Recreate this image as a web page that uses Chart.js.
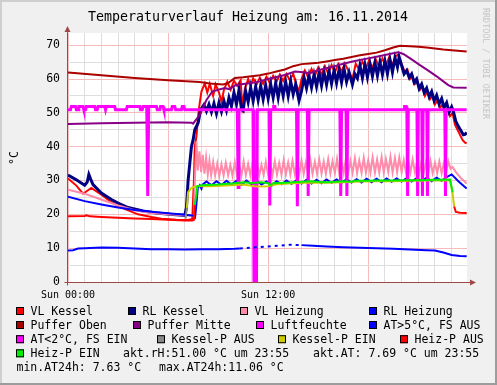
<!DOCTYPE html>
<html>
<head>
<meta charset="utf-8">
<script src="https://cdn.jsdelivr.net/npm/chart.js@4.4.1/dist/chart.umd.min.js"></script>
<style>
html,body{margin:0;padding:0;background:#f0f0f0;}
canvas{display:block;}
</style>
</head>
<body>
<canvas id="heizChart" width="497" height="385"></canvas>
<script>

// ---- data: [hour, °C] pairs ----

const vlKessel = [
[0,30.6],[0.5,28.5],[0.9,26.1],[1.4,27.8],[2.0,25.8],[2.6,23.6],[3.2,22.0],[4.2,20.0],[5.0,19.2],[5.6,18.7],[6.5,18.4],[7.2,18.3],[7.45,18.6],
[7.55,30],[7.6,40],[7.7,43],[7.8,49],[7.9,53],[8.0,56.3],[8.2,58.7],[8.35,56],[8.5,58.6],[8.7,55],[8.85,58.4],[9.05,56],[9.2,53.3],[9.35,56.8],
[9.55,59.2],[9.75,56.8],[9.95,59.5],[10.15,58],[10.35,59.6],[10.45,52],[10.6,57],[10.8,60],[10.95,58],[11.1,60.2],[11.3,58.3],[11.5,60.4],
[11.7,58.6],[11.9,60.7],[12.1,58.8],[12.3,61],[12.5,59.2],[12.7,61.3],[12.9,59.4],[13.1,61.5],[13.3,59.6],[13.5,61.6],[13.7,58],[13.85,56.5],
[14.0,60],[14.2,62.5],[14.4,60.5],[14.6,63],[14.8,61],[15.0,63.4],[15.2,61.3],[15.4,63.8],[15.6,61.6],[15.8,64.1],[16.0,62],[16.2,64.4],
[16.4,62.2],[16.6,64.6],[16.8,62.5],[17.05,60],[17.25,64.5],[17.45,62.8],[17.65,65.2],[17.85,63],[18.05,65.5],[18.25,63.3],[18.45,65.8],
[18.65,63.6],[18.85,66.1],[19.05,63.9],[19.25,66.4],[19.45,64.2],[19.65,66.8],[19.8,67.2],[20.0,64.5],[20.2,62],[20.35,62.8],[20.5,60],
[20.65,61],[20.8,58.5],[20.95,59.3],[21.1,56.8],[21.25,57.8],[21.4,55],[21.55,56.5],[21.7,54],[21.85,55],[22.0,52.5],[22.15,53.8],[22.3,51.5],
[22.45,52.5],[22.6,50.2],[22.75,51.2],[22.9,49],[23.05,50],[23.2,46.5],[23.35,45],[23.5,43.5],[23.65,42],[23.8,41.2],[23.9,41]
];

const rlKessel = [
[0,31.6],[0.5,30.2],[1.0,28.6],[1.15,29.5],[1.25,31.8],[1.35,30.5],[1.5,28.8],[2.0,26.3],[2.6,24.4],[3.0,23.3],[3.6,22.0],[4.5,21.0],
[5.3,20.4],[6.1,20.0],[7.0,19.7],[7.1,22],[7.2,30],[7.3,35],[7.4,40],[7.5,42],[7.6,45],[7.8,47],[7.95,50.9],[8.15,52.4],
[8.3,50.5],[8.45,52.5],[8.6,50.2],[8.75,52.8],[8.9,49.8],[9.05,53],[9.2,50.4],[9.35,53.5],[9.5,50.8],[9.65,54.5],[9.8,52],[9.95,56],
[10.1,52.5],[10.25,56.8],[10.4,51],[10.5,50.6],[10.65,56.5],[10.8,53.2],[10.95,57.5],[11.1,53.5],[11.25,57.8],[11.4,53.8],[11.55,58],
[11.7,54],[11.85,58.2],[12.0,54.2],[12.15,58.5],[12.3,54.5],[12.45,58.8],[12.6,54.5],[12.75,59],[12.9,55],[13.05,59.2],[13.2,55],
[13.35,59.3],[13.5,55.5],[13.65,58.5],[13.85,53.6],[14.0,56.5],[14.15,60.5],[14.3,57.3],[14.45,61],[14.6,57.5],[14.75,61.3],[14.9,57.8],
[15.05,61.8],[15.2,58],[15.35,62],[15.5,58.3],[15.65,62.4],[15.8,58.6],[15.95,62.6],[16.1,58.8],[16.25,62.8],[16.4,59],[16.55,63],
[16.7,59.2],[16.85,62],[17.05,58.4],[17.2,61.5],[17.35,60.2],[17.5,64],[17.65,60.3],[17.8,64.3],[17.95,60.5],[18.1,64.5],[18.25,60.8],
[18.4,64.8],[18.55,61],[18.7,65],[18.85,61.3],[19.0,65.3],[19.15,61.5],[19.3,65.8],[19.45,62],[19.6,66.3],[19.75,63.5],[19.85,66.5],
[20.0,64],[20.15,61.5],[20.3,62.5],[20.45,60.5],[20.6,61.5],[20.75,59],[20.9,60],[21.05,57.2],[21.2,58.5],[21.35,56],[21.5,57.3],
[21.65,54.8],[21.8,56.3],[21.95,53.6],[22.1,55.2],[22.25,52.6],[22.4,54.2],[22.55,51.5],[22.7,53],[22.85,50.2],[23.0,51.8],[23.1,50.5],
[23.25,47.5],[23.4,46],[23.55,44.8],[23.7,43.5],[23.8,43.6],[23.9,44.2]
];

const vlHeizung = [
[0,27.3],[1,26.1],[2,24.4],[3,22.6],[4,21.2],[5,20.4],[6,20.0],[7,19.7],[7.55,19.6],[7.62,32],[7.7,41.5],[7.78,33],[7.88,38.6],[7.98,32.5],
[8.08,37.6],[8.18,32],[8.28,36.8],[8.38,31.8],[8.48,35.8],[8.58,31.6],[8.7,35.5],[8.82,31.5],[8.95,35],[9.07,31.4],[9.2,34.8],[9.33,31.5],
[9.46,35.2],[9.6,31.6],[9.73,34.6],[9.86,31.4],[10,35.4],[10.13,31.6],[10.26,34.8],[10.4,31.5],[10.53,35.6],[10.66,31.6],[10.8,34.9],
[10.93,31.5],[11.06,35.3],[11.2,31.6],[11.33,35.8],[11.46,31.5],[11.6,34.6],[11.73,31.7],[11.86,35.5],[12,31.6],[12.13,35],[12.26,31.6],
[12.4,35.7],[12.53,31.8],[12.66,35.2],[12.8,31.7],[12.93,36],[13.06,31.8],[13.2,35.3],[13.33,31.8],[13.46,35.8],[13.6,31.9],[13.73,35.1],
[13.86,31.8],[14,35.9],[14.13,32],[14.26,35.4],[14.4,31.9],[14.53,36.1],[14.66,32],[14.8,35.5],[14.93,32],[15.06,36.2],[15.2,32.1],
[15.33,35.6],[15.46,32],[15.6,36.3],[15.73,32.1],[15.86,35.7],[16,32.2],[16.13,36.4],[16.26,32.1],[16.4,35.6],[16.53,32.2],[16.66,36.5],
[16.8,32.2],[16.93,35.8],[17.06,32.3],[17.2,36.6],[17.33,32.2],[17.46,35.9],[17.6,32.3],[17.73,36.7],[17.86,32.3],[18,36],[18.13,32.4],
[18.26,36.8],[18.4,32.3],[18.53,36.2],[18.66,32.4],[18.8,36.9],[18.93,32.4],[19.06,36.3],[19.2,32.5],[19.33,37],[19.46,32.4],[19.6,36.6],
[19.73,32.5],[19.86,36.8],[20,32.5],[20.13,36],[20.26,32.4],[20.4,35.8],[20.53,32.4],[20.66,36.2],[20.8,32.3],[20.93,35.5],[21.06,32.3],
[21.2,36],[21.33,32.3],[21.46,35.4],[21.6,32.2],[21.73,35.8],[21.86,32.2],[22,35.2],[22.13,32.2],[22.26,35.6],[22.4,32.1],[22.53,35],
[22.66,32.2],[22.8,35.7],[22.93,33.5],[23.05,34],[23.3,32.2],[23.6,30.5],[23.9,29.1]
];

const rlHeizung = [
[0,25.2],[1,23.9],[2,22.9],[3,22.0],[4,21.3],[5,20.8],[6,20.3],[7,19.9],[7.55,19.6],[7.62,19.2],[7.68,22],[7.78,27.8],[7.9,28.6],[8.0,27.6],
[8.1,28.9],[8.3,29.7],[8.6,28.6],[8.9,29.8],[9.2,28.7],[9.5,29.9],[9.8,28.8],[10.1,29.9],[10.4,28.7],[10.7,30],[11,28.9],[11.3,30],
[11.6,28.8],[11.9,29.7],[12.2,28.4],[12.5,29.8],[12.8,28.9],[13.1,30],[13.4,29],[13.7,30.1],[14,29.1],[14.3,30.2],[14.6,29.1],[14.9,30.2],
[15.2,29.2],[15.5,30.3],[15.8,29.3],[16.1,30.3],[16.4,29.3],[16.7,30.4],[17,29.4],[17.3,30.4],[17.6,29.4],[17.9,30.5],[18.2,29.5],
[18.5,30.5],[18.8,29.5],[19.1,30.6],[19.4,29.6],[19.7,30.6],[20,29.7],[20.3,30.7],[20.6,29.7],[20.9,30.7],[21.2,29.8],[21.5,30.8],
[21.8,29.8],[22.1,30.8],[22.4,29.9],[22.7,31],[23,31.8],[23.4,29.8],[23.9,27.6]
];

const pufferOben = [
[0,61.9],[2,61.1],[4,60.3],[6,59.6],[7.9,59.1],[8.5,58.7],[9.3,58.4],[9.6,58.8],[10,60.3],[10.5,60.5],[11,60.8],[11.5,61.1],[12,61.6],
[12.5,62.2],[13,62.8],[13.5,63.8],[14,64.4],[14.5,64.6],[15,64.8],[15.5,65.2],[16,65.6],[16.5,66],[17,66.5],[17.5,67],[18,67.4],[18.5,67.8],
[19,68.5],[19.5,69.3],[19.9,69.8],[20.5,69.7],[21,69.5],[21.5,69.3],[22,69],[22.5,68.7],[23,68.5],[23.9,68.1]
];

const pufferMitte = [
[0,46.7],[2,46.9],[4,47.1],[6,47.2],[7.4,47.1],[7.5,46.8],[7.6,47.5],[7.9,49.4],[8.3,53.8],[8.65,56.3],[9.0,56.8],[9.4,57.3],[9.7,57],
[10.0,58.1],[10.5,58.5],[11,58.8],[11.5,59.3],[12,60],[12.5,60.6],[13,61.2],[13.6,62.2],[14.1,62],[14.5,61.7],[15,62.6],[15.5,63.2],
[16,63.8],[16.5,64.5],[17,65.1],[17.5,65.6],[18,66.1],[18.5,66.6],[19,67.1],[19.5,67.6],[19.8,67.9],[20.1,67.4],[20.6,65.8],[21.1,64.1],
[21.6,62.5],[22.1,60.8],[22.5,59.3],[22.8,58.2],[23.1,57.5],[23.9,57.4]
];

const luftfeuchte = [
[0,50.9],[0.15,50.9],[0.2,51.9],[0.45,51.9],[0.5,50.9],[0.6,50.9],[0.65,51.9],[0.9,51.9],[0.95,50.9],[1.05,50.9],[1.1,51.9],[1.6,51.9],
[1.65,50.9],[1.75,50.9],[1.8,51.9],[2.2,51.9],[2.25,50.9],[2.3,51.9],[2.8,51.9],[2.85,50.9],[3.5,50.9],[3.55,51.9],[4.3,51.9],[4.35,50.9],
[4.45,50.9],[4.5,51.9],[4.72,51.9],[4.78,25.4],[4.84,51.9],[5.3,51.9],[5.35,50.9],[5.5,50.9],[5.55,51.9],[5.7,51.9],[5.75,50.9],[6.2,50.9],
[6.25,51.9],[6.4,51.9],[6.45,50.9],[6.8,50.9],[6.85,51.9],[6.95,51.9],[7.0,50.9],[10.15,50.9],[10.2,27.9],[10.25,50.9],[11.1,50.9],
[11.15,0],[11.3,0],[11.35,50.9],[12.05,50.9],[12.1,22.6],[12.15,50.9],[12.3,50.9],[12.33,51.9],[12.4,51.9],[12.43,50.9],[13.7,50.9],
[13.75,22.4],[13.8,50.9],[14.35,50.9],[14.4,25.4],[14.45,50.9],[16.3,50.9],[16.35,25.4],[16.4,50.9],[16.67,50.9],[16.72,25.4],[16.77,50.9],
[20.15,50.9],[20.18,51.9],[20.28,51.9],[20.31,50.9],[20.32,50.9],[20.36,25.4],[20.4,50.9],[20.92,50.9],[20.96,25.4],[21.0,50.9],
[21.21,50.9],[21.25,25.4],[21.29,50.9],[21.51,50.9],[21.55,25.4],[21.59,50.9],[22.59,50.9],[22.63,25.4],[22.67,50.9],[23.9,50.9]
];

const atWarm = [
[0,9.3],[0.3,9.4],[0.6,9.9],[1,10.0],[2,10.2],[3,10.1],[4,9.9],[5,9.7],[6,9.7],[7,9.6],[8,9.7],[9,9.7],[10,9.8],[10.3,9.9],[11.5,10.3],
[12.5,10.7],[13.3,11.0],[14,10.9],[14.7,10.7],[15.5,10.5],[16.5,10.3],[17.5,10.1],[18.5,10.0],[19.5,9.8],[20.5,9.6],[21.5,9.4],[22,9.3],
[22.5,8.7],[23,8.0],[23.5,7.7],[23.9,7.63]
];

const atCold = [];

const kesselPAus = [[7.05,18.7],[7.12,21.8]];

const kesselPEin = [
[7.12,21.8],[7.2,26.5],[7.35,27.6],[7.55,28.1],[7.75,28.3],[8.5,28.3],[9.5,28.5],[10.5,28.8],[11.3,28.2],[12,28.3],[12.5,28.9],[13.5,29.2],
[14.5,29.4],[15.5,29.3],[16.5,29.5],[17.5,29.7],[18.5,29.8],[19.5,29.8],[20.5,29.9],[21.5,30],[22.9,30.1],[23.05,26.5],[23.15,22.3]
];

const heizPAus = [
[0,19.4],[1.0,19.5],[1.1,19.7],[1.3,19.4],[2,19.2],[3,19.0],[4,18.8],[5,18.6],[6,18.4],[7,18.2],[7.45,18.2],[7.55,18.4],[7.6,22.8],
[7.62,null],[23.14,null],[23.15,22.3],[23.25,20.7],[23.5,20.5],[23.9,20.4]
];

const heizPEin = [
[7.6,22.8],[7.7,26],[7.75,28.3],[8,28.6],[9,28.8],[10,29.2],[10.5,29.5],[11,29.3],[11.6,29.5],[12,29.2],[12.1,28.6],[12.3,29.2],[13,29.3],
[13.5,29.5],[14,29.6],[14.5,29.8],[15,29.6],[15.5,29.5],[16,29.6],[16.5,29.8],[17,29.6],[17.2,29.9],[18,29.9],[18.5,30.0],[19.5,30.0],
[20,30.1],[21,30.1],[22,30.2],[22.9,30.3],[23.0,28],[23.05,26.5]
];

const seriesNames = ['VL Kessel','RL Kessel','VL Heizung','RL Heizung','Puffer Oben','Puffer Mitte','Luftfeuchte',
  'AT>5°C, FS AUS','AT<2°C, FS EIN','Kessel-P AUS','Kessel-P EIN','Heiz-P AUS','Heiz-P EIN'];
const seriesData = [vlKessel,rlKessel,vlHeizung,rlHeizung,pufferOben,pufferMitte,luftfeuchte,
  atWarm,atCold,kesselPAus,kesselPEin,heizPAus,heizPEin];
const seriesColors = ['#ff0000','#000080','#ff8aaa','#0000ff','#aa0000','#880088','#ff00ff',
  '#0000ff','#ff00ff','#888888','#cccc00','#ff0000','#00ee00'];
const seriesWidths = [2,3,2,2,2,2,3,2,2,2,2,2,2];

const xTickHours = [0,12];
const xTickLabels = ['Sun 00:00','Sun 12:00'];
const yLabelValues = [0,10,20,30,40,50,60,70];

const infoLines = ['akt.rH:51.00 °C um 23:55','akt.AT: 7.69 °C um 23:55','min.AT24h: 7.63 °C','max.AT24h:11.06 °C'];

// ---- chart ----

const mono = '"DejaVu Sans Mono", monospace';
const hourGrid = [];
for (let h = 0; h <= 23; h++) hourGrid.push(h);
const tempGrid = [];
for (let v = 0; v <= 70; v += 5) tempGrid.push(v);

const datasets = seriesData.map((arr, i) => ({
  label: seriesNames[i],
  data: arr.map(p => ({x: p[0], y: p[1]})),
  borderColor: seriesColors[i],
  backgroundColor: seriesColors[i],
  borderWidth: seriesWidths[i],
  pointRadius: 0,
  tension: 0,
  fill: false,
  spanGaps: false,
  order: 20 - i,
  segment: i === 7 ? {
    borderDash: ctx => (ctx.p0.parsed.x >= 10.3 && ctx.p1.parsed.x <= 14.0) ? [3, 4] : undefined
  } : undefined
}));

const rrdLook = {
  id: 'rrdLook',
  beforeDraw(chart){
    const c = chart.ctx, a = chart.chartArea;
    c.save();
    c.fillStyle = '#f0f0f0';
    c.fillRect(0, 0, 497, 385);
    c.fillStyle = '#cfcfcf';
    c.fillRect(0, 0, 497, 2);
    c.fillRect(0, 0, 2, 385);
    c.fillStyle = '#9c9c9c';
    c.fillRect(0, 383, 497, 2);
    c.fillRect(495, 0, 2, 385);
    c.fillStyle = '#ffffff';
    c.fillRect(a.left, a.top, a.right - a.left, a.bottom - a.top);
    c.restore();
  },
  afterDatasetsDraw(chart){
    const c = chart.ctx, a = chart.chartArea;
    const ax = a.left - 0.5, ay = a.bottom + 0.5;
    c.save();
    c.strokeStyle = '#a04848';
    c.fillStyle = '#a04848';
    c.lineWidth = 1;
    c.beginPath();
    c.moveTo(ax, ay + 3); c.lineTo(ax, a.top - 4);
    c.moveTo(ax - 3, ay); c.lineTo(a.right + 5, ay);
    c.stroke();
    c.beginPath();
    c.moveTo(ax, a.top - 7); c.lineTo(ax - 3, a.top - 1); c.lineTo(ax + 3, a.top - 1); c.closePath();
    c.fill();
    c.beginPath();
    c.moveTo(a.right + 9, ay); c.lineTo(a.right + 3, ay - 3); c.lineTo(a.right + 3, ay + 3); c.closePath();
    c.fill();
    c.restore();
  },
  afterDraw(chart){
    const c = chart.ctx;
    c.save();
    c.fillStyle = '#000';
    c.textBaseline = 'alphabetic';
    c.textAlign = 'center';
    c.font = '13.3px ' + mono;
    c.fillText('Temperaturverlauf Heizung am: 16.11.2014', 248, 21);

    // y axis unit
    c.save();
    c.translate(18, 158);
    c.rotate(-Math.PI / 2);
    c.font = '11.5px ' + mono;
    c.fillText('°C', 0, 0);
    c.restore();

    // watermark
    c.save();
    c.translate(483, 8);
    c.rotate(Math.PI / 2);
    c.textAlign = 'left';
    c.fillStyle = '#c4c4c4';
    c.font = '8.4px ' + mono;
    c.fillText('RRDTOOL / TOBI OETIKER', 0, 0);
    c.restore();

    // legend
    const boxX = [[16,128,240,369],[16,133,256,369],[16,157,278,400],[16]];
    const rowY = [315, 329, 343.2, 357.3, 371.4];
    c.font = '11.5px ' + mono;
    c.textAlign = 'left';
    let k = 0;
    boxX.forEach((row, r) => {
      row.forEach(x => {
        const y = rowY[r];
        c.fillStyle = seriesColors[k];
        c.fillRect(x, y - 8, 8, 8);
        c.strokeStyle = '#000';
        c.lineWidth = 1;
        c.strokeRect(x + 0.5, y - 7.5, 7, 7);
        c.fillStyle = '#000';
        c.fillText(seriesNames[k], x + 14.5, y);
        k++;
      });
    });
    c.fillText(infoLines[0], 123, rowY[3]);
    c.fillText(infoLines[1], 313, rowY[3]);
    c.fillText(infoLines[2], 16.5, rowY[4]);
    c.fillText(infoLines[3], 159, rowY[4]);
    c.restore();
  }
};

new Chart(document.getElementById('heizChart'), {
  type: 'line',
  data: { datasets: datasets },
  options: {
    responsive: false,
    animation: false,
    devicePixelRatio: 1,
    layout: { padding: { left: 0, right: 30, top: 33, bottom: 0 } },
    plugins: { legend: { display: false }, tooltip: { enabled: false }, title: { display: false } },
    scales: {
      x: {
        type: 'linear',
        min: 0,
        max: 23.92,
        afterFit: s => { s.height = 103; },
        afterBuildTicks: s => { s.ticks = hourGrid.map(h => ({ value: h })); },
        border: { display: false },
        grid: {
          drawTicks: false,
          lineWidth: 1,
          color: ctx => (ctx.tick && ctx.tick.value % 6 === 0) ? '#f5bcbc' : '#dedede'
        },
        ticks: {
          autoSkip: false,
          maxRotation: 0,
          padding: 7,
          color: '#000',
          font: { family: mono, size: 10 },
          callback: v => {
            const i = xTickHours.indexOf(v);
            return i >= 0 ? xTickLabels[i] : '';
          }
        }
      },
      y: {
        min: 0,
        max: 73.6,
        afterFit: s => { s.width = 68; },
        afterBuildTicks: s => { s.ticks = tempGrid.map(v => ({ value: v })); },
        border: { display: false },
        grid: {
          drawTicks: false,
          lineWidth: 1,
          color: ctx => (ctx.tick && ctx.tick.value % 10 === 0) ? '#f5bcbc' : '#dedede'
        },
        ticks: {
          autoSkip: false,
          padding: 8,
          color: '#000',
          font: { family: mono, size: 11.5 },
          callback: v => yLabelValues.indexOf(v) >= 0 ? String(v) : ''
        }
      }
    }
  },
  plugins: [rrdLook]
});

</script>
</body>
</html>
